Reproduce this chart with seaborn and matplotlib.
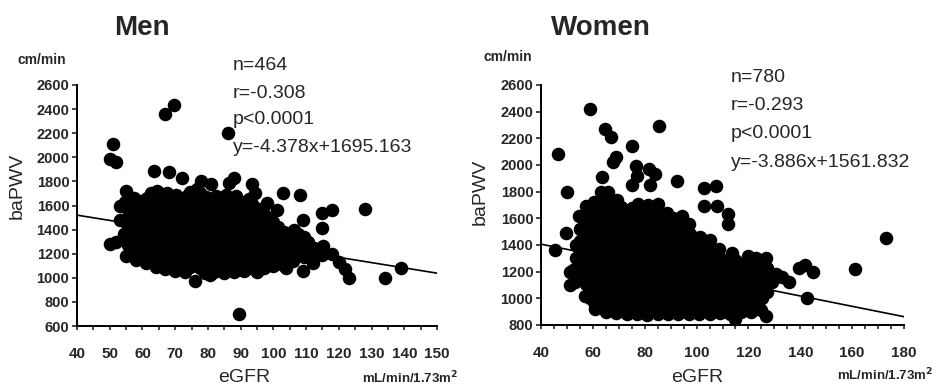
import numpy as np
import matplotlib
matplotlib.use('Agg')
import matplotlib.pyplot as plt
import seaborn as sns

# ============================================================
# Data (eGFR, baPWV)
# ============================================================
men_points = [
    # outliers / edge of the cloud
    (50, 1280), (52, 1300), (50, 1990), (52, 1960), (51, 2110), (53, 1600),
    (53, 1480), (55, 1720), (57.5, 1660), (67, 2360), (69.5, 2430), (86, 2200),
    (89.5, 700), (76, 975), (63.5, 1890), (68, 1880), (72, 1830), (78, 1800),
    (81, 1780), (86.3, 1790), (88, 1830), (93.5, 1780), (98, 1620), (101, 1560),
    (103, 1700), (108, 1690), (109, 1480), (115, 1410), (115, 1540), (118, 1560),
    (118, 1200), (122, 1070), (123, 1000), (128, 1570), (134, 1000), (139, 1080),
    (109, 1060), (104, 1080), (59, 1180), (63.5, 1120), (70, 1090), (80.7, 1020),
    (85, 1040), (95, 1050), (112, 1120), (120, 1130),
    # dense body
    (55, 1180), (55.5, 1270), (54.5, 1360), (55.2, 1450), (55.8, 1540), (54.8, 1630),
    (58, 1150), (58.4, 1240), (57.6, 1330), (58.2, 1420), (57.8, 1510), (58.5, 1600),
    (61, 1120), (61.3, 1210), (60.6, 1300), (61.4, 1390), (60.8, 1480), (61.2, 1570), (61.5, 1660),
    (64, 1090), (64.3, 1180), (63.7, 1270), (64.4, 1360), (63.8, 1450), (64.2, 1540), (63.6, 1630), (64.5, 1720),
    (67, 1070), (67.3, 1160), (66.7, 1250), (67.4, 1340), (66.8, 1430), (67.2, 1520), (66.6, 1610), (67.5, 1700),
    (70, 1060), (70.4, 1150), (69.6, 1240), (70.3, 1330), (69.8, 1420), (70.5, 1510), (69.7, 1600), (70.2, 1690),
    (73, 1050), (73.3, 1140), (72.7, 1230), (73.4, 1320), (72.8, 1410), (73.2, 1500), (72.6, 1590), (73.5, 1680),
    (76.4, 1110), (75.7, 1200), (76.3, 1290), (75.8, 1380), (76.5, 1470), (75.6, 1560), (76.2, 1650), (76.8, 1740),
    (79, 1040), (79.3, 1130), (78.7, 1220), (79.4, 1310), (78.8, 1400), (79.2, 1490), (78.6, 1580), (79.5, 1670),
    (82, 1050), (82.3, 1140), (81.7, 1230), (82.4, 1320), (81.8, 1410), (82.2, 1500), (81.6, 1590), (82.5, 1680),
    (85, 1060), (85.3, 1150), (84.7, 1240), (85.4, 1330), (84.8, 1420), (85.2, 1510), (84.6, 1600), (85.5, 1690),
    (88, 1050), (88.3, 1140), (87.7, 1230), (88.4, 1320), (87.8, 1410), (88.2, 1500), (87.6, 1590), (88.5, 1680),
    (91, 1060), (91.3, 1150), (90.7, 1240), (91.4, 1330), (90.8, 1420), (91.2, 1510), (90.6, 1600),
    (94, 1070), (94.3, 1160), (93.7, 1250), (94.4, 1340), (93.8, 1430), (94.2, 1520), (93.6, 1610), (94.3, 1700),
    (97, 1080), (97.3, 1170), (96.7, 1260), (97.4, 1350), (96.8, 1440), (97.2, 1530),
    (100, 1100), (100.3, 1190), (99.7, 1280), (100.4, 1370), (99.8, 1460),
    (103, 1110), (103.3, 1200), (102.7, 1290), (103.4, 1380),
    (106, 1140), (106.3, 1230), (105.7, 1320), (106.4, 1400),
    (109.3, 1170), (108.7, 1260), (109.4, 1340),
    (112, 1180), (112.3, 1250), (115, 1190), (115.3, 1260),
]

# extra points between the columns above, where the cloud is solid black
men_fill = [
    (56.5, [1225, 1315, 1405, 1495, 1585]),
    (59.5, [1195, 1285, 1375, 1465, 1555, 1640]),
    (62.5, [1165, 1255, 1345, 1435, 1525, 1615, 1700]),
    (65.5, [1125, 1215, 1305, 1395, 1485, 1575, 1665]),
    (68.5, [1110, 1200, 1290, 1380, 1470, 1560, 1650]),
    (71.5, [1100, 1190, 1280, 1370, 1460, 1550, 1640]),
    (74.5, [1090, 1180, 1270, 1360, 1450, 1540, 1630, 1710]),
    (77.5, [1080, 1170, 1260, 1350, 1440, 1530, 1620, 1700]),
    (80.5, [1090, 1180, 1270, 1360, 1450, 1540, 1630]),
    (83.5, [1100, 1190, 1280, 1370, 1460, 1550, 1640]),
    (86.5, [1100, 1190, 1280, 1370, 1460, 1550, 1640]),
    (89.5, [1100, 1190, 1280, 1370, 1460, 1550, 1640]),
    (92.5, [1110, 1200, 1290, 1380, 1470, 1560, 1650]),
    (95.5, [1120, 1210, 1300, 1390, 1480, 1570]),
    (98.5, [1140, 1230, 1320, 1410, 1500]),
    (101.5, [1150, 1240, 1330, 1420]),
    (104.5, [1160, 1250, 1340]),
    (107.5, [1190, 1280, 1360]),
    (110.5, [1210, 1300]),
    (113.5, [1220]),
]

women_points = [
    # outliers / edge of the cloud
    (45.5, 1360), (46.5, 2080), (49.5, 1490), (50, 1800), (51, 1200), (51, 1100),
    (53.5, 1400), (54.8, 1620), (59, 2420), (64.5, 2270), (67, 2210), (63.6, 1910),
    (63, 1800), (66, 1800), (67.6, 2020), (68.9, 2060), (75, 2140), (76.6, 1990),
    (77, 1920), (75, 1850), (81.7, 1970), (84, 1930), (82, 1850), (85.5, 2290),
    (92.5, 1880), (103, 1830), (107.5, 1840), (103, 1690), (108, 1690), (112, 1630),
    (112, 1560), (61, 920), (60.5, 970), (63, 1070), (115, 845), (126.7, 870),
    (128, 1200), (133, 1160), (135.7, 1120), (139.5, 1230), (142, 1250), (145, 1200),
    (142.5, 1000), (161, 1220), (173, 1450), (120, 1320), (123, 1300), (126.7, 1300),
    (117.7, 1045), (108.7, 1370),
    # dense body
    (53, 1120), (52.5, 1210), (53.5, 1300), (54, 1390),
    (57, 1020), (57.4, 1105), (56.6, 1190), (57.3, 1275), (56.8, 1360), (57.2, 1445), (56.7, 1530), (57.5, 1615), (57.2, 1690),
    (61, 960), (61.4, 1045), (60.6, 1130), (61.3, 1215), (60.8, 1300), (61.2, 1385), (60.7, 1470), (61.5, 1555), (61, 1640), (60.6, 1720),
    (65, 900), (65.4, 985), (64.6, 1070), (65.3, 1155), (64.8, 1240), (65.2, 1325), (64.7, 1410), (65.5, 1495), (65, 1580), (64.6, 1665), (65.3, 1750),
    (69, 890), (69.4, 975), (68.6, 1060), (69.3, 1145), (68.8, 1230), (69.2, 1315), (68.7, 1400), (69.5, 1485), (69, 1570), (68.6, 1655), (69.3, 1740),
    (73, 880), (73.4, 965), (72.6, 1050), (73.3, 1135), (72.8, 1220), (73.2, 1305), (72.7, 1390), (73.5, 1475), (73, 1560), (72.6, 1645),
    (77, 880), (77.4, 965), (76.6, 1050), (77.3, 1135), (76.8, 1220), (77.2, 1305), (76.7, 1390), (77.5, 1475), (77, 1560), (76.6, 1645), (77.3, 1710),
    (81, 875), (81.4, 960), (80.6, 1045), (81.3, 1130), (80.8, 1215), (81.2, 1300), (80.7, 1385), (81.5, 1470), (81, 1555), (80.6, 1640), (81.3, 1700),
    (85, 880), (85.4, 965), (84.6, 1050), (85.3, 1135), (84.8, 1220), (85.2, 1305), (84.7, 1390), (85.5, 1475), (85, 1560), (84.6, 1645), (85.3, 1710),
    (89, 885), (89.4, 970), (88.6, 1055), (89.3, 1140), (88.8, 1225), (89.2, 1310), (88.7, 1395), (89.5, 1480), (89, 1565), (88.6, 1640),
    (93, 880), (93.4, 965), (92.6, 1050), (93.3, 1135), (92.8, 1220), (93.2, 1305), (92.7, 1390), (93.5, 1475), (93, 1560), (94.5, 1620),
    (97, 885), (97.4, 970), (96.6, 1055), (97.3, 1140), (96.8, 1225), (97.2, 1310), (96.7, 1395), (97.5, 1480), (97, 1560),
    (101, 880), (101.4, 965), (100.6, 1050), (101.3, 1135), (100.8, 1220), (101.2, 1305), (100.7, 1390), (101.3, 1460),
    (105, 885), (105.4, 970), (104.6, 1055), (105.3, 1140), (104.8, 1225), (105.2, 1310), (104.7, 1395), (105.3, 1440),
    (109, 890), (109.4, 975), (108.6, 1060), (109.3, 1145), (108.8, 1230), (109.2, 1300),
    (113, 880), (113.4, 965), (112.6, 1050), (113.3, 1140), (112.8, 1250), (113.5, 1340),
    (117, 900), (117.4, 980), (116.6, 1130), (117.3, 1210),
    (121, 900), (121.4, 985), (120.6, 1070), (121.3, 1160), (120.8, 1240),
    (125, 910), (125.4, 1000), (124.6, 1090), (125.3, 1180), (124.8, 1260),
    (129, 1120), (130.5, 1180),
]

women_fill = [
    (55, [1160, 1250, 1340, 1430, 1520]),
    (59, [1000, 1085, 1170, 1255, 1340, 1425, 1510, 1595, 1680]),
    (63, [940, 1025, 1110, 1195, 1280, 1365, 1450, 1535, 1620, 1705]),
    (67, [930, 1015, 1100, 1185, 1270, 1355, 1440, 1525, 1610, 1695]),
    (71, [920, 1005, 1090, 1175, 1260, 1345, 1430, 1515, 1600, 1685]),
    (75, [920, 1005, 1090, 1175, 1260, 1345, 1430, 1515, 1600, 1680]),
    (79, [920, 1005, 1090, 1175, 1260, 1345, 1430, 1515, 1600, 1680]),
    (83, [920, 1005, 1090, 1175, 1260, 1345, 1430, 1515, 1600, 1680]),
    (87, [925, 1010, 1095, 1180, 1265, 1350, 1435, 1520, 1600]),
    (91, [925, 1010, 1095, 1180, 1265, 1350, 1435, 1520, 1600]),
    (95, [925, 1010, 1095, 1180, 1265, 1350, 1435, 1520]),
    (99, [925, 1010, 1095, 1180, 1265, 1350, 1430]),
    (103, [925, 1010, 1095, 1180, 1265, 1350, 1420]),
    (107, [930, 1015, 1100, 1185, 1270, 1350]),
    (111, [930, 1015, 1100, 1185, 1270]),
    (115, [925, 1010, 1090, 1170, 1290]),
    (119, [940, 1025, 1110, 1200, 1280]),
    (123, [950, 1040, 1130, 1220]),
    (127, [1050, 1140, 1230]),
]

men_egfr = [p[0] for p in men_points] + [x for x, ys in men_fill for _ in ys]
men_bapwv = [p[1] for p in men_points] + [y for _, ys in men_fill for y in ys]
women_egfr = [p[0] for p in women_points] + [x for x, ys in women_fill for _ in ys]
women_bapwv = [p[1] for p in women_points] + [y for _, ys in women_fill for y in ys]

# regression results printed on the panels
men_stats = ['n=464', 'r=-0.308', 'p<0.0001', 'y=-4.378x+1695.163']
women_stats = ['n=780', 'r=-0.293', 'p<0.0001', 'y=-3.886x+1561.832']
men_fit = (-4.378, 1695.163)
women_fit = (-3.886, 1561.832)

men_xticks = list(range(40, 151, 10))
men_yticks = list(range(600, 2601, 200))
women_xticks = list(range(40, 181, 20))
women_yticks = list(range(800, 2601, 200))

# ============================================================
# Figure
# ============================================================
sns.set_style('ticks')
plt.rcParams['font.family'] = ['Liberation Sans', 'DejaVu Sans']

W, H = 938, 390
fig = plt.figure(figsize=(W / 100, H / 100), dpi=100)


def fx(px):
    return px / W


def fy(py):
    return 1 - py / H


ax1 = fig.add_axes([fx(77), fy(326), fx(437) - fx(77), fy(85) - fy(326)])
ax2 = fig.add_axes([fx(541), fy(325), fx(904) - fx(541), fy(85) - fy(325)])

panels = [
    (ax1, men_egfr, men_bapwv, men_fit, (40, 150), (600, 2600), men_xticks, men_yticks),
    (ax2, women_egfr, women_bapwv, women_fit, (40, 180), (800, 2600), women_xticks, women_yticks),
]

for ax, xs, ys, fit, xlim, ylim, xt, yt in panels:
    sns.scatterplot(x=xs, y=ys, ax=ax, color='black', s=95, linewidth=0,
                    legend=False, clip_on=False, zorder=3)
    line_x = np.array(xlim, dtype=float)
    ax.plot(line_x, fit[0] * line_x + fit[1], color='black', lw=1.2, zorder=4)
    ax.set_xlim(*xlim)
    ax.set_ylim(*ylim)
    ax.set_xticks(xt)
    ax.set_xticks(np.arange(xlim[0], xlim[1] + 1, 5), minor=True)
    ax.set_yticks(yt)
    ax.set_xticklabels([str(v) for v in xt], fontweight='bold')
    ax.set_yticklabels([str(v) for v in yt], fontweight='bold')
    ax.tick_params(axis='x', which='both', direction='out', length=3, width=1.2,
                   labelsize=11, pad=12)
    ax.tick_params(axis='y', which='major', direction='out', length=3.5, width=1.2,
                   labelsize=10.5, pad=2)
    sns.despine(ax=ax)
    for s in ['left', 'bottom']:
        ax.spines[s].set_linewidth(1.4)
        ax.spines[s].set_color('black')
    ax.set_xlabel('')
    ax.set_ylabel('')

# titles and axis annotations
fig.text(fx(142), fy(28), 'Men', ha='center', va='center', fontsize=20, fontweight='bold')
fig.text(fx(601), fy(28), 'Women', ha='center', va='center', fontsize=20, fontweight='bold')

fig.text(fx(42), fy(60), 'cm/min', ha='center', va='center', fontsize=10, fontweight='bold')
fig.text(fx(508), fy(57), 'cm/min', ha='center', va='center', fontsize=10, fontweight='bold')

fig.text(fx(17), fy(186), 'baPWV', ha='center', va='center', rotation=90, fontsize=14)
fig.text(fx(480), fy(192), 'baPWV', ha='center', va='center', rotation=90, fontsize=14)

fig.text(fx(244), fy(377), 'eGFR', ha='center', va='center', fontsize=14)
fig.text(fx(697), fy(377), 'eGFR', ha='center', va='center', fontsize=14)

fig.text(fx(410), fy(378), r'mL/min/1.73m$^\mathbf{2}$', ha='center', va='center',
         fontsize=9.5, fontweight='bold')
fig.text(fx(885), fy(375), r'mL/min/1.73m$^\mathbf{2}$', ha='center', va='center',
         fontsize=9.5, fontweight='bold')

for i, txt in enumerate(men_stats):
    fig.text(fx(233), fy(66 + 27 * i), txt, ha='left', va='center', fontsize=14)
for i, txt in enumerate(women_stats):
    fig.text(fx(731), fy(78 + 28 * i), txt, ha='left', va='center', fontsize=14)

plt.savefig('out.png', dpi=100)
